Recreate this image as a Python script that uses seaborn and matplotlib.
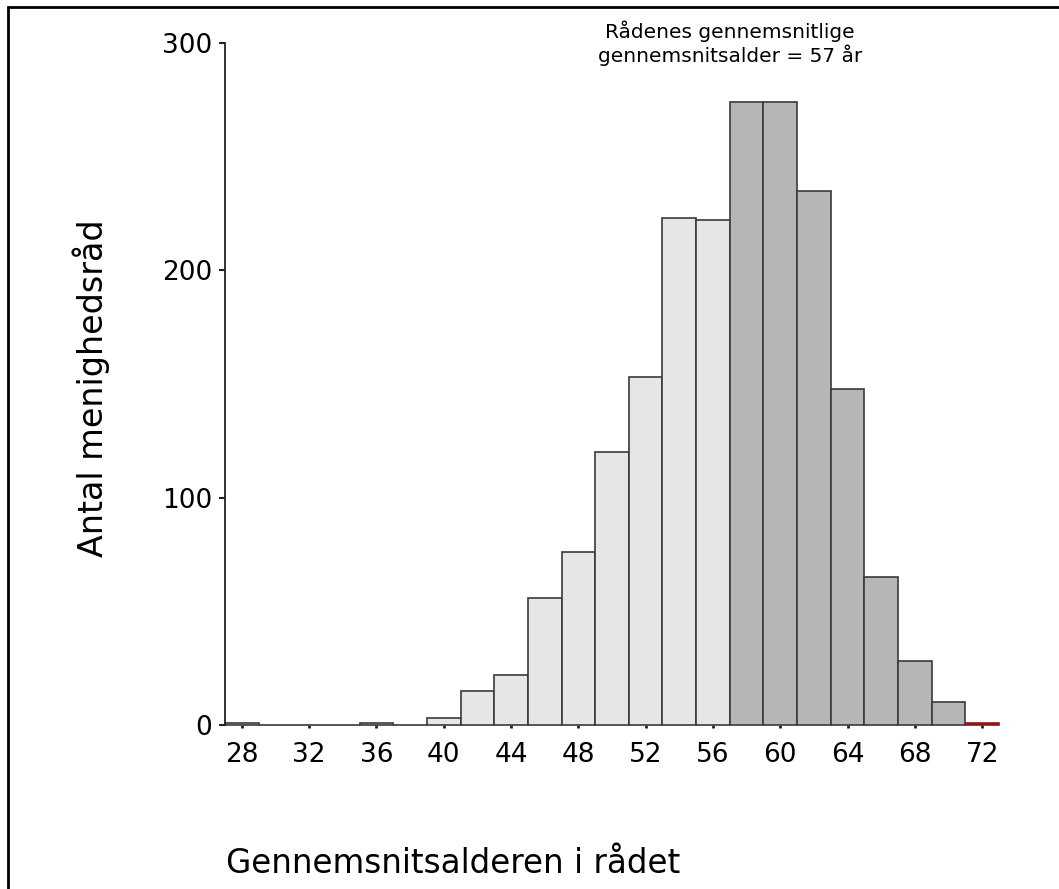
import matplotlib
matplotlib.use("Agg")
import matplotlib.pyplot as plt
from matplotlib.patches import Rectangle
import pandas as pd
import seaborn as sns

sns.set_style("white")
plt.rcParams["font.family"] = ["DejaVu Sans"]
plt.rcParams["text.color"] = "black"

# average age of the council (bin centre), number of councils, group
ages = [28, 30, 32, 34, 36, 38, 40, 42, 44, 46, 48, 50,
        52, 54, 56, 58, 60, 62, 64, 66, 68, 70, 72]
counts = [1, 0, 0, 0, 1, 0, 3, 15, 22, 56, 76, 120,
          153, 223, 222, 274, 274, 235, 148, 65, 28, 10, 1]
groups = ["under"] * 15 + ["over"] * 7 + ["max"]
x_ticks = [28, 32, 36, 40, 44, 48, 52, 56, 60, 64, 68, 72]
y_ticks = [0, 100, 200, 300]
mean_age = 57

fill = {"under": "#e6e6e6", "over": "#b6b6b6", "max": "#8b1a1a"}
edge = {"under": "#3a3a3a", "over": "#3a3a3a", "max": "#8b1a1a"}

df = pd.DataFrame({"age": ages, "n": counts, "group": groups})

fig = plt.figure(figsize=(10.59, 8.89), dpi=100)
ax = fig.add_axes([225 / 1059, 1 - 725 / 889, 774 / 1059, 682 / 889])

sns.histplot(data=df, x="age", weights="n", binwidth=2, binrange=(27, 73),
             ax=ax, alpha=1, linewidth=1.2)

# colour each bar by its group, keep the zero-height bars visible
for patch, g in zip(ax.patches, df.group):
    patch.set_facecolor(fill[g])
    patch.set_edgecolor(edge[g])
    patch.set_clip_on(False)

ax.set_xlim(27, 73)
ax.set_ylim(0, 300)
ax.set_xticks(x_ticks)
ax.set_yticks(y_ticks)
ax.tick_params(axis="x", bottom=True, length=2.5, width=2, color="#222222",
               pad=10, labelsize=19, labelcolor="black", direction="out")
ax.tick_params(axis="y", left=True, length=4.3, width=1.5, color="#222222",
               pad=5, labelsize=19, labelcolor="black", direction="out")
ax.set_xlabel("")
ax.set_ylabel("")
sns.despine(ax=ax, bottom=True)
ax.spines["left"].set_linewidth(1.3)
ax.spines["left"].set_color("#222222")

fig.text(91 / 1059, 1 - 388 / 889, "Antal menighedsråd", fontsize=24,
         rotation=90, ha="center", va="center")
fig.text(226 / 1059, 1 - 873 / 889, "Gennemsnitsalderen i rådet",
         fontsize=23.5, ha="left", va="baseline")
ax.text(mean_age, 1.0, "Rådenes gennemsnitlige\ngennemsnitsalder = 57 år",
        transform=ax.get_xaxis_transform(), fontsize=14.5,
        ha="center", va="center", linespacing=1.15, clip_on=False)

# frame around the figure (only top and left visible)
fig.add_artist(Rectangle((8 / 1059, -0.2), 1.2, 1 - 7 / 889 + 0.2,
                         transform=fig.transFigure, fill=False,
                         edgecolor="black", linewidth=2, clip_on=False))

fig.savefig("out.png", dpi=100)
